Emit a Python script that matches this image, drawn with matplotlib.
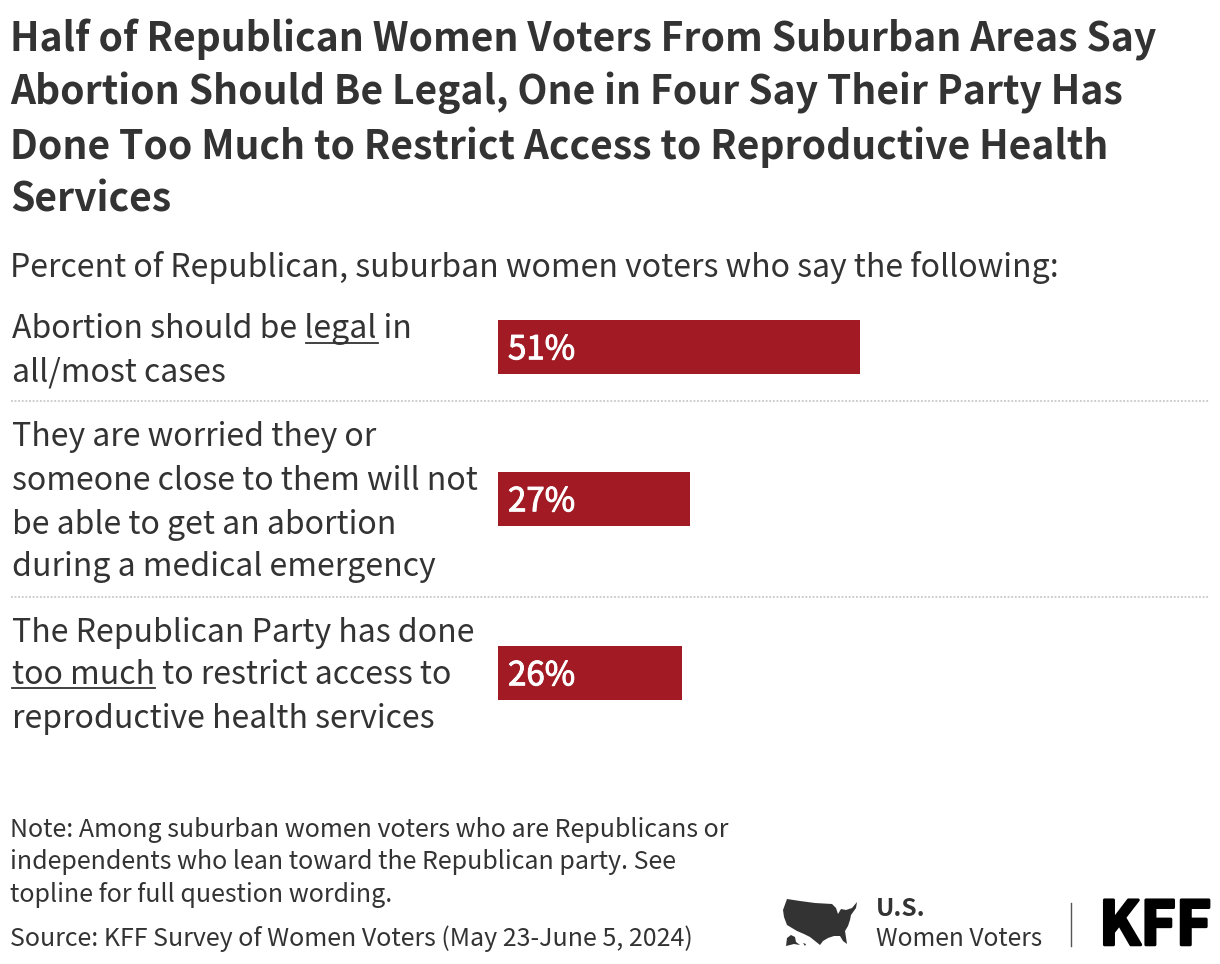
import matplotlib
matplotlib.use('Agg')
import matplotlib.pyplot as plt
from matplotlib.patches import Polygon
import matplotlib.patheffects as pe

plt.rcParams['font.family'] = ['Noto Sans CJK SC', 'DejaVu Sans']

title_lines = ['Half of Republican Women Voters From Suburban Areas Say',
               'Abortion Should Be Legal, One in Four Say Their Party Has',
               'Done Too Much to Restrict Access to Reproductive Health',
               'Services']
subtitle = 'Percent of Republican, suburban women voters who say the following:'
labels = [['Abortion should be legal in', 'all/most cases'],
          ['They are worried they or', 'someone close to them will not',
           'be able to get an abortion', 'during a medical emergency'],
          ['The Republican Party has done', 'too much to restrict access to',
           'reproductive health services']]
values = [51, 27, 26]
note_lines = ['Note: Among suburban women voters who are Republicans or',
              'independents who lean toward the Republican party. See',
              'topline for full question wording.']
source = 'Source: KFF Survey of Women Voters (May 23-June 5, 2024)'

DARK = '#333333'
RED = '#a21a23'

fig = plt.figure(figsize=(12.2, 9.64), dpi=100)

# overlay in pixel coords for all the text
pg = fig.add_axes([0, 0, 1, 1])
pg.set_xlim(0, 1220)
pg.set_ylim(964, 0)
pg.axis('off')

for y, line in zip([40, 93, 147, 200], title_lines):
    pg.text(10.5, y, line, fontsize=28.15, fontweight='bold', color=DARK, va='center')
pg.text(10.5, 267, subtitle, fontsize=23.05, color=DARK, va='center')

label_ys = [[329, 373], [437, 481, 525, 567], [633, 675, 719]]
for lines, ys in zip(labels, label_ys):
    for line, y in zip(lines, ys):
        pg.text(12, y, line, fontsize=23.05, color=DARK, va='center')

# underlined words
pg.plot([306, 378], [343, 343], color=DARK, lw=1.3)
pg.plot([12, 155], [688, 688], color=DARK, lw=1.3)

# dotted row separators
for y in [401, 597]:
    pg.plot([11, 1209], [y, y], color='#c8c8c8', lw=1.3, ls=(0, (1, 1)))

for y, line in zip([830, 862, 895], note_lines):
    pg.text(10.5, y, line, fontsize=18.0, color=DARK, va='center')
pg.text(10.5, 939, source, fontsize=18.0, color=DARK, va='center')

# logo
usa = [(787, 899), (800, 901), (815, 903), (832, 904), (836, 908), (838, 914), (841, 909),
       (846, 910), (852, 908), (857, 902), (856, 908), (851, 915), (850, 920), (848, 926),
       (845, 931), (847, 944), (843, 941), (840, 936), (834, 936), (828, 938), (823, 941),
       (820, 945), (815, 941), (810, 937), (804, 934), (797, 931), (787, 925), (784, 917),
       (783, 910)]
pg.add_patch(Polygon(usa, closed=True, color=DARK, lw=0))
pg.add_patch(Polygon([(787, 938), (791, 935), (795, 937), (796, 942), (800, 945), (794, 944),
                      (786, 946)], closed=True, color=DARK, lw=0))
pg.add_patch(Polygon([(803, 943), (806, 944), (805, 946)], closed=True, color=DARK, lw=0))
pg.text(876, 909, 'U.S.', fontsize=17.7, fontweight='bold', color=DARK, va='center')
pg.text(876, 939, 'Women Voters', fontsize=17.7, color=DARK, va='center')
pg.plot([1071, 1071], [903, 946], color='#555555', lw=1)
pg.text(1099, 927, 'KFF', fontsize=43.5, fontweight='black', color='#000000', va='center',
        path_effects=[pe.withStroke(linewidth=2.2, foreground='#000000')])

# bars
ax = fig.add_axes([498 / 1220, 0, (1209 - 498) / 1220, 1])
ax.patch.set_alpha(0)
ax.set_xlim(0, 100.2)
ax.set_ylim(964, 0)
ax.axis('off')
row_y = [347, 499, 673]
ax.barh(row_y, values, height=54, color=RED)
for y, v in zip(row_y, values):
    ax.annotate('%d%%' % v, (0, y), xytext=(7.2, -2), textcoords='offset points',
                color='white', fontsize=23.8, fontweight='medium', va='center',
                path_effects=[pe.withStroke(linewidth=0.7, foreground='white')])

fig.savefig('out.png', dpi=100)
